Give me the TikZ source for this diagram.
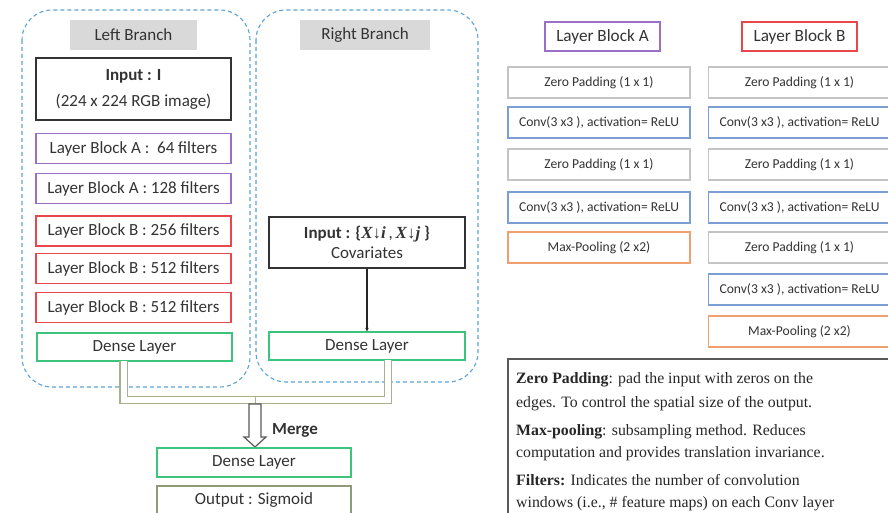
\documentclass[tikz,border=0pt]{standalone}
\usepackage{fontspec}
\setmainfont{Carlito}
\newfontfamily\tnr{Liberation Serif}
\usetikzlibrary{arrows.meta}
\definecolor{dblue}{HTML}{5BA3D6}
\definecolor{cpurple}{HTML}{9B6FC7}
\definecolor{cred}{HTML}{E8474B}
\definecolor{cgreen}{HTML}{3CC47C}
\definecolor{cblue}{HTML}{7B9FD4}
\definecolor{cgray}{HTML}{C4C4C4}
\definecolor{corange}{HTML}{F0A070}
\definecolor{colive}{HTML}{A8B18F}
\definecolor{colive2}{HTML}{8F9A78}
\definecolor{txt}{HTML}{333333}
\tikzset{
  bigbox/.style={draw=#1, line width=1.3pt, minimum width=195pt, minimum height=30pt, inner sep=0pt, font=\fontsize{17}{20}\selectfont, text=txt},
  smallbox/.style={draw=#1, line width=1.1pt, minimum width=182pt, minimum height=31pt, inner sep=0pt, font=\fontsize{13.6}{16}\selectfont, text=txt},
  titlebox/.style={draw=#1, line width=1.3pt, minimum width=115pt, minimum height=29pt, inner sep=0pt, font=\fontsize{17.2}{20}\selectfont, text=txt},
  graylabel/.style={fill=black!15, minimum height=30pt, inner sep=0pt, font=\fontsize{17}{20}\selectfont, text=txt},
  branch/.style={draw=dblue, line width=1.1pt, dash pattern=on 4pt off 3pt, rounded corners=30pt},
  note/.style={anchor=base west, inner sep=0pt, font=\tnr\fontsize{15.8}{18}\selectfont, text=black!85},
  pipe/.style={draw=colive, line width=1.4pt, double=white, double distance=6pt},
}
\begin{document}
\begin{tikzpicture}[x=1pt,y=-1pt]
\useasboundingbox (0,0) rectangle (888,513);
% branch containers
\draw[branch] (22,10) rectangle (250,387);
\draw[branch] (256,10) rectangle (478,382);
\node[graylabel, minimum width=127pt] (lbl) at (133.5,35) {Left Branch};
\node[graylabel, minimum width=130pt] (rbl) at (365,35) {Right Branch};
% left branch
\node[bigbox=txt, minimum height=62pt, align=center] (inI) at (133.5,89) {\textbf{Input : I}\\[6pt](224 x 224 RGB image)};
\node[bigbox=cpurple] (a64) at (133.5,148.5) {Layer Block A :\ \ 64 filters};
\node[bigbox=cpurple] (a128) at (133.5,188.5) {Layer Block A : 128 filters};
\node[bigbox=cred] (b256) at (133.5,231) {Layer Block B : 256 filters};
\node[bigbox=cred] (b512a) at (133.5,268.5) {Layer Block B : 512 filters};
\node[bigbox=cred] (b512b) at (133.5,307.5) {Layer Block B : 512 filters};
\node[bigbox=cgreen, minimum height=28pt] (dl) at (134.5,347) {Dense Layer};
% right branch
\node[bigbox=txt, minimum width=196pt, minimum height=51pt, align=center] (inX) at (367,242.5) {\textbf{Input : \{}{\tnr\bfseries\itshape X↓i}\,,\,{\tnr\bfseries\itshape X↓j} \textbf{\}}\\[0pt]Covariates};
\node[bigbox=cgreen, minimum width=196pt, minimum height=28pt] (dr) at (367,346) {Dense Layer};
\draw[line width=1.1pt, black!85, -{Stealth[length=3.5pt,width=3.5pt]}] (inX.south) -- (dr.north);
% merge pipe
\coordinate (pl) at (123.5,400);
\coordinate (pr) at (388,400);
\draw[pipe] (123.5,361) -- (pl) -- (pr) -- (388,360);
\coordinate (mt) at (255,404);
\draw[colive, line width=1pt] (255,397) -- (mt);
\draw[black!65, line width=1.2pt, fill=white, line join=miter] (249,404) -- (261,404) -- (261,437) -- (266,437) -- (255,447) -- (244,437) -- (249,437) -- cycle;
\node[anchor=west, inner sep=0pt, font=\fontsize{17}{20}\selectfont\bfseries, text=txt] (merge) at (272,430) {Merge};
\node[bigbox=cgreen, minimum width=194pt, minimum height=29pt] (dm) at (254,462.5) {Dense Layer};
\node[bigbox=colive2, minimum width=194pt, minimum height=29pt] (out) at (254,500.5) {Output : Sigmoid};
% right side legend
\node[titlebox=cpurple] (tA) at (602.5,36.5) {Layer Block A};
\node[titlebox=cred] (tB) at (799.5,36.5) {Layer Block B};
\node[smallbox=cgray] (a1) at (599,82.5) {Zero Padding (1 x 1)};
\node[smallbox=cblue] (a2) at (599,122.5) {Conv(3 x3 ), activation= ReLU};
\node[smallbox=cgray] (a3) at (599,164.5) {Zero Padding (1 x 1)};
\node[smallbox=cblue] (a4) at (599,207.5) {Conv(3 x3 ), activation= ReLU};
\node[smallbox=corange] (a5) at (599,247.5) {Max-Pooling (2 x2)};
\node[smallbox=cgray] (b1) at (799.5,82.5) {Zero Padding (1 x 1)};
\node[smallbox=cblue] (b2) at (799.5,122.5) {Conv(3 x3 ), activation= ReLU};
\node[smallbox=cgray] (b3) at (799.5,164.5) {Zero Padding (1 x 1)};
\node[smallbox=cblue] (b4) at (799.5,207.5) {Conv(3 x3 ), activation= ReLU};
\node[smallbox=cgray] (b5) at (799.5,247.5) {Zero Padding (1 x 1)};
\node[smallbox=cblue] (b6) at (799.5,289.5) {Conv(3 x3 ), activation= ReLU};
\node[smallbox=corange] (b7) at (799.5,331.5) {Max-Pooling (2 x2)};
% note box
\draw[black!65, line width=1.3pt] (508,359) rectangle (895,525);
\node[note] (n1) at (516,383) {\textbf{Zero Padding}: pad the input with zeros on the};
\node[note] (n2) at (516,407) {edges. To control the spatial size of the output.};
\node[note] (n3) at (516,435) {\textbf{Max-pooling}: subsampling method. Reduces};
\node[note] (n4) at (516,457) {computation and provides translation invariance.};
\node[note] (n5) at (516,485) {\textbf{Filters:} Indicates the number of convolution};
\node[note] (n6) at (516,507) {windows (i.e., \# feature maps) on each Conv layer};
\end{tikzpicture}
\end{document}
